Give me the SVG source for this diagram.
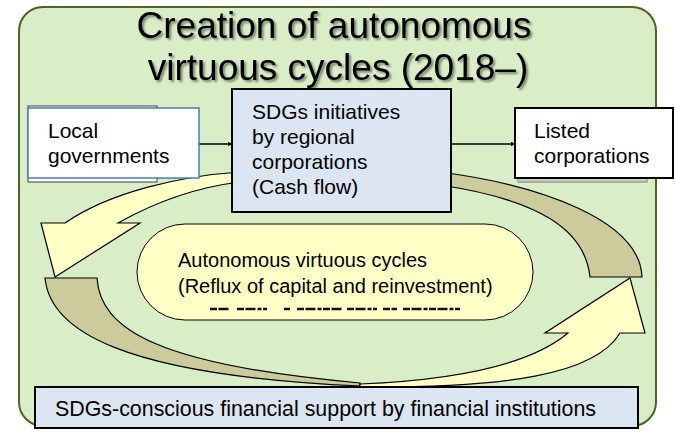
<svg xmlns="http://www.w3.org/2000/svg" width="675" height="433" viewBox="0 0 675 433">
  <defs>
    <style>
      text { font-family: "Liberation Sans", Arial, sans-serif; fill: #000; }
      .title { font-size: 37px; text-anchor: middle; }
      .lbl { font-size: 21px; }
      .sm { font-size: 20px; }
      .yel { fill: #ffffc6; stroke: #000; stroke-width: 1.2; stroke-linejoin: miter; }
      .olv { fill: #cccb9b; stroke: #000; stroke-width: 1.2; }
      .blue { fill: #dce6f2; stroke: #000; stroke-width: 2; }
      .conn { stroke: #000; stroke-width: 1.5; fill: none; }
    </style>
    <filter id="shadow" x="-5%" y="-20%" width="110%" height="140%">
      <feDropShadow dx="2" dy="2" stdDeviation="1.2" flood-color="#000" flood-opacity="0.45"/>
    </filter>
    <marker id="arr" viewBox="0 0 8 8" refX="7" refY="4" markerWidth="5" markerHeight="5" orient="auto" markerUnits="userSpaceOnUse">
      <path d="M0,0 L8,4 L0,8 z" fill="#000"/>
    </marker>
  </defs>

  <g id="frame">
    <rect x="19" y="7" width="637" height="419" rx="24" fill="#d9edc7" stroke="#4f6228" stroke-width="2"/>
    <g filter="url(#shadow)">
      <text class="title" x="334" y="38">Creation of autonomous</text>
      <text class="title" x="338" y="80">virtuous cycles (2018–)</text>
    </g>
  </g>

  <g id="cycle-arrows">
    <path class="yel" d="M240,172 C180,176 110,192 65,223 L41,223 L55,277 L140,223 L118,223 C150,205 190,188 240,182 Z"/>
    <path class="olv" d="M440,172 C540,185 640,220 642,277 L590,277 C585,230 540,200 440,185 Z"/>
    <path class="olv" d="M45,278 C50,330 120,375 360,386 L360,383 C160,365 100,330 97,278 Z"/>
    <path class="yel" d="M360,384 C455,380 530,365 568,333 L545,333 L630,278 L645,333 L620,333 C595,375 505,388 360,387 Z"/>
  </g>

  <g id="connectors">
    <line class="conn" x1="199" y1="144" x2="232" y2="144" marker-end="url(#arr)"/>
    <line class="conn" x1="451" y1="144" x2="515" y2="144" marker-end="url(#arr)"/>
  </g>

  <g id="local-governments">
    <rect x="28" y="106" width="129" height="76" fill="#fff" stroke="#404040" stroke-width="1"/>
    <rect x="28" y="108" width="171" height="70" fill="#fff" stroke="#4a7ebb" stroke-width="1.5"/>
    <text class="lbl" x="48" y="138">Local</text>
    <text class="lbl" x="48" y="163">governments</text>
  </g>

  <g id="sdgs-initiatives">
    <rect class="blue" x="232" y="89" width="219" height="123"/>
    <text class="lbl" x="252" y="119">SDGs initiatives</text>
    <text class="lbl" x="252" y="144">by regional</text>
    <text class="lbl" x="252" y="169">corporations</text>
    <text class="lbl" x="252" y="194">(Cash flow)</text>
  </g>

  <g id="listed-corporations">
    <rect x="518" y="110" width="129" height="72" fill="#cfcfcf" stroke="#808080" stroke-width="1"/>
    <rect x="515" y="108" width="158" height="70" fill="#fff" stroke="#000" stroke-width="2"/>
    <text class="lbl" x="534" y="138">Listed</text>
    <text class="lbl" x="534" y="163">corporations</text>
  </g>

  <g id="autonomous-cycles">
    <rect x="137" y="224" width="396" height="96" rx="48" fill="#ffffc6" stroke="#000" stroke-width="1"/>
    <text class="sm" x="178" y="267">Autonomous virtuous cycles</text>
    <text class="sm" x="178" y="293">(Reflux of capital and reinvestment)</text>
    <path d="M210,309 H230 M237,309 H267 M284,309 H290 M297,309 H343 M347,309 H377 M383,309 H397 M403,309 H460" stroke="#111" stroke-width="2.5" stroke-dasharray="7 1.5 10 2 4 1.5" fill="none"/>
  </g>

  <g id="financial-support">
    <rect class="blue" x="35" y="387" width="603" height="41"/>
    <text x="55" y="416" style="font-size:21.4px">SDGs-conscious financial support by financial institutions</text>
  </g>
</svg>
